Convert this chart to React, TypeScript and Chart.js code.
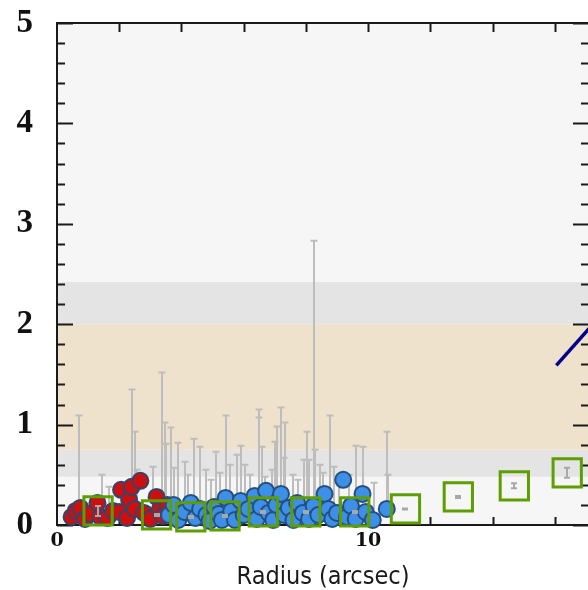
import React, { useEffect, useRef } from "react";
import { Chart, registerables } from "chart.js";

Chart.register(...registerables);

// ---- data ----
const xTickLabels = [0, 10];
const yTickLabels = [0, 1, 2, 3, 4, 5];

const bandLow = [0, 0.48, 0.75, 2.0, 2.42];
const bandHigh = [0.48, 0.75, 2.0, 2.42, 5];

const redX = [0.47, 0.6, 0.75, 0.9, 1.05, 1.3, 1.4, 1.62, 1.8, 2.0, 2.06, 2.25, 2.32, 2.4, 2.5, 2.68, 2.8, 3.0, 3.2, 3.3, 3.4, 3.55];
const redY = [0.08, 0.14, 0.17, 0.06, 0.11, 0.22, 0.08, 0.07, 0.14, 0.13, 0.35, 0.07, 0.25, 0.38, 0.16, 0.44, 0.12, 0.06, 0.28, 0.15, 0.09, 0.2];

const blueX = [3.6, 3.75, 3.9, 4.1, 4.3, 4.45, 4.6, 4.8, 4.9, 5.05, 5.2, 5.3, 5.42, 5.6, 5.72, 5.9, 6.0, 6.15, 6.35, 6.42, 6.55, 6.72, 6.8, 6.95, 7.05, 7.2, 7.3, 7.45, 7.6, 7.72, 7.9, 8.1, 8.25, 8.4, 8.6, 8.72, 8.85, 9.0, 9.2, 9.32, 9.45, 9.6, 9.82, 9.92, 10.15, 10.6];
const blueY = [0.1, 0.2, 0.05, 0.13, 0.22, 0.07, 0.16, 0.1, 0.04, 0.18, 0.11, 0.05, 0.27, 0.14, 0.05, 0.24, 0.1, 0.16, 0.29, 0.06, 0.18, 0.34, 0.12, 0.05, 0.2, 0.31, 0.1, 0.17, 0.05, 0.22, 0.12, 0.06, 0.19, 0.1, 0.31, 0.16, 0.06, 0.12, 0.45, 0.08, 0.19, 0.06, 0.31, 0.13, 0.05, 0.16];

const errX = [0.7, 1.46, 1.68, 2.4, 2.5, 2.57, 3.1, 3.37, 3.47, 3.5, 3.68, 3.75, 3.9, 4.1, 4.2, 4.4, 4.6, 4.8, 4.95, 5.1, 5.25, 5.43, 5.55, 5.8, 5.9, 6.05, 6.2, 6.48, 6.5, 6.6, 6.67, 6.9, 7.0, 7.08, 7.2, 7.3, 7.33, 7.6, 7.75, 7.94, 8.03, 8.1, 8.25, 8.3, 8.45, 8.55, 8.76, 8.9, 9.05, 9.4, 9.6, 9.85, 10.2, 10.6, 10.65];
const errHigh = [1.09, 0.5, 0.38, 1.35, 0.93, 0.55, 0.58, 1.52, 1.02, 0.81, 0.97, 0.57, 0.82, 0.63, 0.5, 0.86, 0.78, 0.55, 0.45, 0.73, 0.52, 1.09, 0.6, 0.7, 0.79, 0.6, 0.5, 1.15, 1.07, 0.78, 0.48, 0.55, 0.83, 0.98, 1.17, 0.67, 1.02, 0.5, 0.45, 0.65, 0.93, 0.65, 2.83, 0.75, 0.6, 0.52, 1.09, 0.58, 0.45, 0.5, 0.79, 0.78, 0.42, 0.93, 0.5];
const errLow = [0.15, 0.22, 0.22, 0.38, 0.16, 0.16, 0.1, 0.28, 0.15, 0.1, 0.2, 0.2, 0.05, 0.13, 0.13, 0.22, 0.16, 0.1, 0.04, 0.18, 0.11, 0.27, 0.14, 0.24, 0.24, 0.1, 0.16, 0.29, 0.29, 0.18, 0.34, 0.05, 0.2, 0.2, 0.31, 0.1, 0.1, 0.05, 0.22, 0.12, 0.12, 0.06, 0.19, 0.19, 0.1, 0.31, 0.16, 0.06, 0.12, 0.19, 0.06, 0.31, 0.05, 0.16, 0.16];

const greenX = [1.32, 3.2, 4.3, 5.4, 6.63, 8.0, 9.57, 11.2, 12.9, 14.7, 16.4];
const greenY = [0.14, 0.1, 0.08, 0.09, 0.13, 0.13, 0.13, 0.16, 0.28, 0.39, 0.52];
const greenErr = [0.05, 0.01, 0.01, 0.01, 0.01, 0.01, 0.01, 0.005, 0.01, 0.025, 0.05];

const modelX = [16.05, 17.6];
const modelY = [1.59, 2.13];

// ---- styles ----
const bandColors = ["#f6f6f6", "#e4e4e4", "#eee2cd", "#e4e4e4", "#f6f6f6"];
const X_MAX = 17.1;

const zip = (xs: number[], ys: number[]) => xs.map((x, i) => ({ x, y: ys[i] }));

const noPad = (s: any) => {
  s.paddingTop = 0;
  s.paddingBottom = 0;
  s.paddingLeft = 0;
  s.paddingRight = 0;
};

const framePlugin = {
  id: "frameAndBands",
  beforeDatasetsDraw(chart: any) {
    const { ctx, chartArea: a, scales } = chart;
    const xs = scales.x;
    const ys = scales.y;
    ctx.save();
    for (let i = 0; i < bandLow.length; i++) {
      const yt = ys.getPixelForValue(bandHigh[i]);
      const yb = ys.getPixelForValue(bandLow[i]);
      ctx.fillStyle = bandColors[i];
      ctx.fillRect(a.left, yt, a.right - a.left, yb - yt);
    }
    ctx.strokeStyle = "#bdbdbd";
    ctx.lineWidth = 2;
    for (let i = 0; i < errX.length; i++) {
      const px = Math.round(xs.getPixelForValue(errX[i]));
      const pt = ys.getPixelForValue(errHigh[i]);
      const pb = ys.getPixelForValue(errLow[i]);
      ctx.beginPath();
      ctx.moveTo(px, pb);
      ctx.lineTo(px, pt);
      ctx.moveTo(px - 3.5, pt);
      ctx.lineTo(px + 3.5, pt);
      ctx.stroke();
    }
    ctx.strokeStyle = "#1a1a1a";
    ctx.lineWidth = 2;
    ctx.strokeRect(a.left, a.top, a.right - a.left, a.bottom - a.top);
    ctx.beginPath();
    for (let k = 0; k <= 25; k++) {
      const v = k * 0.2;
      const py = Math.round(ys.getPixelForValue(v)) + 0.5;
      const major = k % 5 === 0;
      const len = major ? 16 : 8;
      ctx.moveTo(a.left, py);
      ctx.lineTo(a.left + len, py);
      ctx.moveTo(a.right, py);
      ctx.lineTo(a.right - len, py);
    }
    for (let v = 2; v < X_MAX; v += 2) {
      const px = Math.round(xs.getPixelForValue(v)) + 0.5;
      ctx.moveTo(px, a.top);
      ctx.lineTo(px, a.top + 9);
      ctx.moveTo(px, a.bottom);
      ctx.lineTo(px, a.bottom - 8);
    }
    ctx.stroke();
    ctx.restore();
  },
  afterDatasetsDraw(chart: any) {
    const { ctx, scales } = chart;
    const xs = scales.x;
    const ys = scales.y;
    ctx.save();
    ctx.strokeStyle = "#a8a8a8";
    ctx.lineWidth = 2;
    for (let i = 0; i < greenX.length; i++) {
      const px = Math.round(xs.getPixelForValue(greenX[i]));
      const pt = ys.getPixelForValue(greenY[i] + greenErr[i]);
      const pb = ys.getPixelForValue(greenY[i] - greenErr[i]);
      ctx.beginPath();
      ctx.moveTo(px, pb);
      ctx.lineTo(px, pt);
      ctx.moveTo(px - 3, pt);
      ctx.lineTo(px + 3, pt);
      ctx.moveTo(px - 3, pb);
      ctx.lineTo(px + 3, pb);
      ctx.stroke();
    }
    ctx.restore();
  },
};

export default function App() {
  const ref = useRef<HTMLCanvasElement | null>(null);
  useEffect(() => {
    if (!ref.current) return;
    const chart = new Chart(ref.current, {
      type: "scatter",
      data: {
        datasets: [
          {
            label: "green",
            data: zip(greenX, greenY),
            pointStyle: "rect",
            pointRadius: 20,
            pointHoverRadius: 20,
            borderWidth: 3,
            borderColor: "#5e9e02",
            backgroundColor: "rgba(0,0,0,0)",
            order: 0,
            clip: false,
          } as any,
          {
            label: "model",
            data: zip(modelX, modelY),
            showLine: true,
            pointRadius: 0,
            borderColor: "#00008a",
            borderWidth: 3.5,
            order: 1,
          } as any,
          {
            label: "blue",
            data: zip(blueX, blueY),
            pointRadius: 8,
            borderWidth: 2,
            backgroundColor: "#3d8fe8",
            borderColor: "#24507f",
            order: 2,
            clip: false,
          } as any,
          {
            label: "red",
            data: zip(redX, redY),
            pointRadius: 8,
            borderWidth: 2,
            backgroundColor: "#cc1010",
            borderColor: "#33456c",
            order: 3,
            clip: false,
          } as any,
        ],
      },
      options: {
        responsive: false,
        animation: false,
        events: [],
        layout: { padding: { left: 0, top: 23, right: 17, bottom: 0 } },
        plugins: {
          legend: { display: false },
          tooltip: { enabled: false },
        },
        scales: {
          x: {
            type: "linear",
            min: 0,
            max: X_MAX,
            grid: { display: false, drawTicks: false },
            border: { display: false },
            afterBuildTicks: (s: any) => {
              s.ticks = xTickLabels.map((v) => ({ value: v }));
            },
            afterFit: (s: any) => {
              s.height = 65;
              noPad(s);
            },
            ticks: {
              padding: 5,
              maxRotation: 0,
              autoSkip: false,
              color: "#111",
              font: { family: "'DejaVu Serif'", size: 19, weight: "bold" },
            },
            title: {
              display: true,
              text: "Radius (arcsec)",
              color: "#1a1a1a",
              padding: { top: 0, bottom: -2 },
              font: { family: "'DejaVu Sans Condensed', 'DejaVu Sans'", size: 25 },
            },
          },
          y: {
            type: "linear",
            min: 0,
            max: 5,
            grid: { display: false, drawTicks: false },
            border: { display: false },
            afterBuildTicks: (s: any) => {
              s.ticks = yTickLabels.map((v) => ({ value: v }));
            },
            afterFit: (s: any) => {
              s.width = 57;
              noPad(s);
            },
            ticks: {
              padding: 24,
              autoSkip: false,
              color: "#111",
              font: { family: "'Liberation Serif'", size: 33, weight: "bold" },
            },
          },
        },
      } as any,
      plugins: [framePlugin],
    });
    return () => chart.destroy();
  }, []);

  return (
    <div
      style={{
        position: "fixed",
        left: 0,
        top: 0,
        width: 588,
        height: 590,
        overflow: "hidden",
        background: "#ffffff",
      }}
    >
      <canvas ref={ref} width={612} height={590} style={{ width: 612, height: 590, display: "block" }} />
    </div>
  );
}
